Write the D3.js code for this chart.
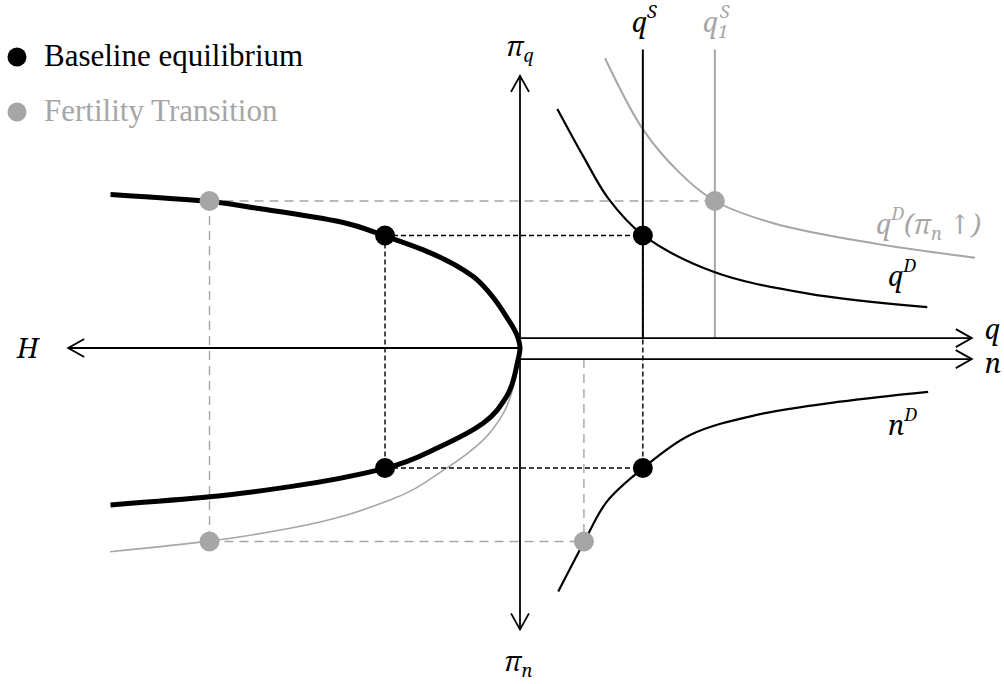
<!DOCTYPE html>
<html>
<head>
<meta charset="utf-8">
<script src="https://cdn.jsdelivr.net/npm/d3@7/dist/d3.min.js"></script>
<style>
  body { margin: 0; background: #fff; }
</style>
</head>
<body>
<div id="chart"></div>
<script>
// curves, [x, y] in diagram units (origin = axes crossing)
var hUpper = [[-9.10, 5.12], [-6.87, 4.88], [-5.85, 4.66], [-4.00, 4.21], [-3.00, 3.73],
              [-2.15, 3.27], [-1.04, 2.38], [-0.67, 1.82], [-0.30, 1.04], [-0.06, 0.40], [0, 0]];
var hLower = [[0, 0], [-0.06, -0.50], [-0.30, -1.62], [-0.82, -2.51], [-1.78, -3.29],
              [-3.00, -4.01], [-5.11, -4.62], [-6.89, -4.96], [-9.10, -5.23]];
var hLowerFert = [[0, 0], [-0.11, -1.07], [-0.37, -2.18], [-0.82, -3.07], [-1.70, -4.07],
                  [-2.89, -5.07], [-5.11, -6.01], [-6.87, -6.43], [-9.11, -6.79]];
var qDemand = [[0.83, 7.97], [1.41, 6.38], [1.96, 4.99], [2.73, 3.77], [4.30, 2.54],
               [6.37, 1.82], [9.05, 1.36]];
var qDemandFert = [[1.89, 9.66], [2.74, 7.27], [3.56, 5.82], [4.33, 4.90], [5.63, 4.16],
                   [7.85, 3.49], [10.11, 3.01]];
var nDemand = [[0.85, -8.12], [1.41, -6.51], [1.93, -5.12], [2.73, -4.01], [3.78, -2.90],
               [5.26, -2.23], [7.11, -1.79], [9.07, -1.46]];

// equilibria: baseline, fertility transition
var eqNames = ["Baseline equilibrium", "Fertility Transition"];
var eqH = [-3.0, -6.9];
var eqQ = [2.73, 4.33];
var eqN = [2.73, 1.42];
var eqPiQ = [3.75, 4.9];
var eqPiN = [-4.0, -6.45];

var supplyTop = 9.95;
var qAxisY = 0.33, nAxisY = -0.37;
var axisEnd = 10.04, piTop = 9.07, piBottom = -9.38;

var colors = ["#000", "#a6a6a6"];
var serif = "Liberation Serif, serif";
var mathFont = "Noto Serif, DejaVu Serif, serif";

var width = 1004, height = 684;
var svg = d3.select("#chart").append("svg")
  .attr("width", width).attr("height", height);

var x = d3.scaleLinear().domain([-10, 10]).range([70, 970]);
var y = d3.scaleLinear().domain([-10, 10]).range([648, 48]);

var lineX = d3.line()
  .x(function(d) { return x(d[0]); })
  .y(function(d) { return y(d[1]); })
  .curve(d3.curveCatmullRom.alpha(0.5));
// the H curves are drawn as x = f(y)
var lineY = d3.line()
  .x(function(d) { return x(d[0]); })
  .y(function(d) { return y(d[1]); })
  .curve(d3.curveMonotoneY);

function byY(a) {
  return a.slice().sort(function(p, q) { return y(p[1]) - y(q[1]); });
}

// arrow head (open chevron)
svg.append("defs").append("marker")
  .attr("id", "arrow")
  .attr("markerUnits", "userSpaceOnUse")
  .attr("viewBox", "-17 -10 19 20")
  .attr("refX", 0).attr("refY", 0)
  .attr("markerWidth", 19).attr("markerHeight", 20)
  .attr("orient", "auto")
  .append("path")
    .attr("d", "M-16,-9L0,0L-16,9")
    .attr("fill", "none").attr("stroke", "#000").attr("stroke-width", 1.8);

// gray curves first
svg.append("path").datum(byY(hLowerFert)).attr("d", lineY)
  .attr("fill", "none").attr("stroke", colors[1]).attr("stroke-width", 1.6);
svg.append("path").datum(qDemandFert).attr("d", lineX)
  .attr("fill", "none").attr("stroke", colors[1]).attr("stroke-width", 2);

// dashed guide lines
eqH.forEach(function(h, i) {
  var dash = i === 0 ? "5,3" : "9,6";
  var g = svg.append("g").attr("stroke", colors[i]).attr("stroke-width", 1.4)
    .attr("stroke-dasharray", dash).attr("fill", "none");
  g.append("line").attr("x1", x(h)).attr("x2", x(eqQ[i])).attr("y1", y(eqPiQ[i])).attr("y2", y(eqPiQ[i]));
  g.append("line").attr("x1", x(h)).attr("x2", x(h)).attr("y1", y(eqPiQ[i])).attr("y2", y(eqPiN[i]));
  g.append("line").attr("x1", x(h)).attr("x2", x(eqN[i])).attr("y1", y(eqPiN[i])).attr("y2", y(eqPiN[i]));
  var top = Math.abs(eqQ[i] - eqN[i]) < 0.05 ? eqPiQ[i] : nAxisY;
  g.append("line").attr("x1", x(eqN[i])).attr("x2", x(eqN[i])).attr("y1", y(top)).attr("y2", y(eqPiN[i]));
});

// supply lines q^S
eqQ.forEach(function(q, i) {
  svg.append("line").attr("x1", x(q)).attr("x2", x(q))
    .attr("y1", y(supplyTop)).attr("y2", y(qAxisY))
    .attr("stroke", colors[i]).attr("stroke-width", 2);
});

// black curves
svg.append("path").datum(byY(hUpper.concat(hLower.slice(1)))).attr("d", lineY)
  .attr("fill", "none").attr("stroke", "#000").attr("stroke-width", 5);
svg.append("path").datum(qDemand).attr("d", lineX)
  .attr("fill", "none").attr("stroke", "#000").attr("stroke-width", 2.2);
svg.append("path").datum(nDemand).attr("d", lineX)
  .attr("fill", "none").attr("stroke", "#000").attr("stroke-width", 2.2);

// axes
var axes = svg.append("g").attr("stroke", "#000").attr("stroke-width", 1.8);
axes.append("line").attr("x1", x(0)).attr("x2", x(-axisEnd)).attr("y1", y(0)).attr("y2", y(0))
  .attr("marker-end", "url(#arrow)");
axes.append("line").attr("x1", x(0)).attr("x2", x(axisEnd)).attr("y1", y(qAxisY)).attr("y2", y(qAxisY))
  .attr("marker-end", "url(#arrow)");
axes.append("line").attr("x1", x(0)).attr("x2", x(axisEnd)).attr("y1", y(nAxisY)).attr("y2", y(nAxisY))
  .attr("marker-end", "url(#arrow)");
axes.append("line").attr("x1", x(0)).attr("x2", x(0)).attr("y1", y(0)).attr("y2", y(piTop))
  .attr("marker-end", "url(#arrow)");
axes.append("line").attr("x1", x(0)).attr("x2", x(0)).attr("y1", y(0)).attr("y2", y(piBottom))
  .attr("marker-end", "url(#arrow)");

// equilibrium dots
eqH.forEach(function(h, i) {
  var pts = [[h, eqPiQ[i]], [h, eqPiN[i]], [eqQ[i], eqPiQ[i]], [eqN[i], eqPiN[i]]];
  svg.append("g").selectAll("circle").data(pts).enter().append("circle")
    .attr("cx", function(d) { return x(d[0]); })
    .attr("cy", function(d) { return y(d[1]); })
    .attr("r", 10)
    .attr("fill", colors[i]);
});

// legend
var legend = svg.append("g");
eqNames.forEach(function(name, i) {
  var ly = 57 + i * 55;
  legend.append("circle").attr("cx", 17).attr("cy", ly).attr("r", 9.5).attr("fill", colors[i]);
  legend.append("text").attr("x", 44).attr("y", ly + 9)
    .style("font-family", serif).style("font-size", "31px")
    .attr("fill", colors[i]).text(name);
});

// math labels: parts are [text, "main"|"sub"|"sup"]
function mathLabel(x0, y0, parts, color) {
  var t = svg.append("text").attr("x", x0).attr("y", y0)
    .style("font-family", mathFont).style("font-style", "italic")
    .attr("fill", color || "#000");
  var shift = 0;
  parts.forEach(function(p) {
    var target = p[1] === "sup" ? -14 : p[1] === "sub" ? 6 : 0;
    t.append("tspan").attr("dy", target - shift)
      .style("font-size", (p[1] === "main" ? 27 : 18) + "px").text(p[0]);
    shift = target;
  });
  return t;
}

mathLabel(x(0) - 14, 56, [["π", "main"], ["q", "sub"]]);
mathLabel(x(0) - 16, 671, [["π", "main"], ["n", "sub"]]);
mathLabel(17, y(0) + 10, [["H", "main"]]);
mathLabel(x(axisEnd) + 13, y(qAxisY) + 1, [["q", "main"]]);
mathLabel(x(axisEnd) + 13, y(nAxisY) + 14, [["n", "main"]]);
mathLabel(x(eqQ[0]) - 11, 32, [["q", "main"], ["S", "sup"]]);
// q_1^S: subscript and superscript stacked
mathLabel(x(eqQ[1]) - 12, 32, [["q", "main"], ["1", "sub"]], colors[1]);
mathLabel(x(eqQ[1]) + 5, 32, [["S", "sup"]], colors[1]);
mathLabel(888, 286, [["q", "main"], ["D", "sup"]]);
mathLabel(876, 234, [["q", "main"], ["D", "sup"], ["(π", "main"], ["n", "sub"], [" ↑)", "main"]], colors[1]);
mathLabel(888, 435, [["n", "main"], ["D", "sup"]]);
</script>
</body>
</html>
